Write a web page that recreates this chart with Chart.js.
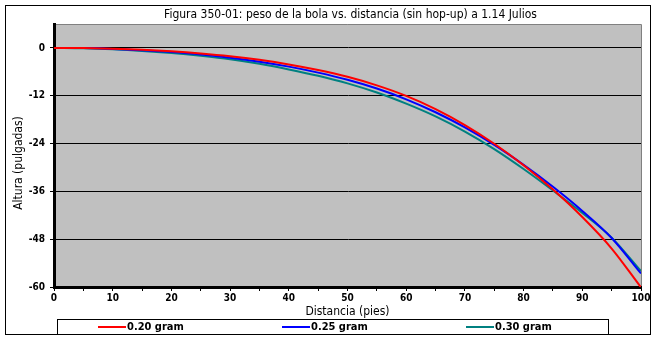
<!DOCTYPE html>
<html>
<head>
<meta charset="utf-8">
<script src="https://cdn.jsdelivr.net/npm/chart.js@4"></script>
<style>
  html, body { margin: 0; padding: 0; background: #fff; }
  #wrap { width: 657px; height: 340px; }
</style>
</head>
<body>
<div id="wrap"><canvas id="grafico"></canvas></div>
<script>
const distancias = [0, 5, 10, 15, 20, 25, 30, 35, 40, 45, 50, 55, 60, 65, 70, 75, 80, 85, 90, 95, 100]

const bola020 = [0, -0.05, -0.2, -0.45, -0.85, -1.4, -2.1, -3.0, -4.15, -5.55, -7.25, -9.4, -12.05, -15.35, -19.35, -24.05, -29.45, -35.55, -42.45, -50.35, -60.1]
const bola025 = [0, -0.05, -0.25, -0.6, -1.05, -1.65, -2.45, -3.45, -4.7, -6.2, -8.0, -10.2, -12.9, -16.15, -19.95, -24.35, -29.35, -34.85, -40.9, -47.7, -56.6]
const bola030 = [0, -0.1, -0.35, -0.75, -1.3, -2.0, -2.85, -4.0, -5.4, -7.0, -8.9, -11.2, -14.0, -17.2, -21.0, -25.4, -30.4, -35.8, -41.4, -47.6, -56.0]

const series = ["0.20 gram", "0.25 gram", "0.30 gram"]
const colores = ["#FF0000", "#0000FF", "#008080"]
const ticksY = [-60, -48, -36, -24, -12, 0]

const titulo = "Figura 350-01: peso de la bola vs. distancia (sin hop-up) a 1.14 Julios"
const tituloX = "Distancia (pies)"
const tituloY = "Altura (pulgadas)"

const fuenteTicks = "'Liberation Sans Narrow', 'DejaVu Sans Condensed', sans-serif"
const fuenteTexto = "'DejaVu Sans Condensed', 'DejaVu Sans', sans-serif"

function puntos(valores) {
    return distancias.map((d, i) => ({ x: d, y: valores[i] }))
}

const marco = {
    id: 'marco',
    beforeDraw(chart) {
        const { ctx, chartArea: a } = chart
        ctx.save()
        ctx.fillStyle = '#C0C0C0'
        ctx.fillRect(a.left, a.top, a.right - a.left, a.bottom - a.top)
        ctx.strokeStyle = '#808080'
        ctx.lineWidth = 1
        ctx.beginPath()
        ctx.moveTo(a.left, a.top + 0.5)
        ctx.lineTo(a.right + 0.5, a.top + 0.5)
        ctx.lineTo(a.right + 0.5, a.bottom)
        ctx.stroke()
        ctx.restore()
    },
    afterDraw(chart) {
        const { ctx, chartArea: a } = chart
        ctx.save()
        // borde exterior
        ctx.strokeStyle = '#000'
        ctx.lineWidth = 1
        ctx.strokeRect(5.5, 5.5, 645, 329)

        // titulo
        ctx.fillStyle = '#000'
        ctx.font = "12px " + fuenteTexto
        ctx.textAlign = 'center'
        ctx.textBaseline = 'middle'
        ctx.fillText(titulo, (a.left + a.right) / 2 + 3, 15)

        // titulo eje y
        ctx.save()
        ctx.translate(19, 163)
        ctx.rotate(-Math.PI / 2)
        ctx.fillText(tituloY, 0, 0)
        ctx.restore()

        // leyenda
        ctx.strokeRect(57.5, 319.5, 551, 15)
        ctx.font = "bold 11px " + fuenteTicks
        ctx.textAlign = 'left'
        chart.data.datasets.forEach((ds, i) => {
            const x0 = 98 + i * 184
            ctx.strokeStyle = ds.borderColor
            ctx.lineWidth = 2
            ctx.beginPath()
            ctx.moveTo(x0, 327)
            ctx.lineTo(x0 + 28, 327)
            ctx.stroke()
            ctx.fillStyle = '#000'
            ctx.fillText(ds.label, x0 + 29, 327.5)
        })
        ctx.restore()
    }
}

new Chart(document.getElementById("grafico"), {
    type: 'line',
    data: {
        datasets: series.map((s, i) => ({
            label: s,
            data: puntos([bola020, bola025, bola030][i]),
            borderColor: colores[i],
            backgroundColor: colores[i],
            borderWidth: 2,
            pointRadius: 0,
            cubicInterpolationMode: 'monotone',
            fill: false
        }))
    },
    options: {
        responsive: true,
        maintainAspectRatio: false,
        animation: false,
        layout: { padding: { left: 0, right: 16, top: 24, bottom: 21 } },
        plugins: {
            legend: { display: false },
            title: { display: false },
            tooltip: { enabled: false }
        },
        scales: {
            x: {
                type: 'linear',
                min: 0,
                max: 100,
                afterFit(scale) { scale.height = 32 },
                ticks: {
                    stepSize: 5,
                    autoSkip: false,
                    maxRotation: 0,
                    padding: 1,
                    color: '#000',
                    font: { family: fuenteTicks, size: 10, weight: 'bold' },
                    callback: v => (v % 10 === 0 ? v : '')
                },
                grid: { drawOnChartArea: false, tickLength: 4, color: '#000', tickColor: '#000' },
                border: { display: true, color: '#000', width: 3 },
                title: {
                    display: true,
                    text: tituloX,
                    color: '#000',
                    padding: 0,
                    font: { family: fuenteTexto, size: 12 }
                }
            },
            y: {
                min: -60,
                max: 6,
                afterFit(scale) { scale.width = 54 },
                afterBuildTicks(scale) {
                    scale.ticks = ticksY.map(v => ({ value: v }))
                },
                ticks: {
                    padding: 5,
                    color: '#000',
                    font: { family: fuenteTicks, size: 10, weight: 'bold' }
                },
                grid: { color: '#000', lineWidth: 1, tickLength: 4, tickColor: '#000' },
                border: { display: true, color: '#000', width: 3 }
            }
        }
    },
    plugins: [marco]
});
</script>
</body>
</html>
